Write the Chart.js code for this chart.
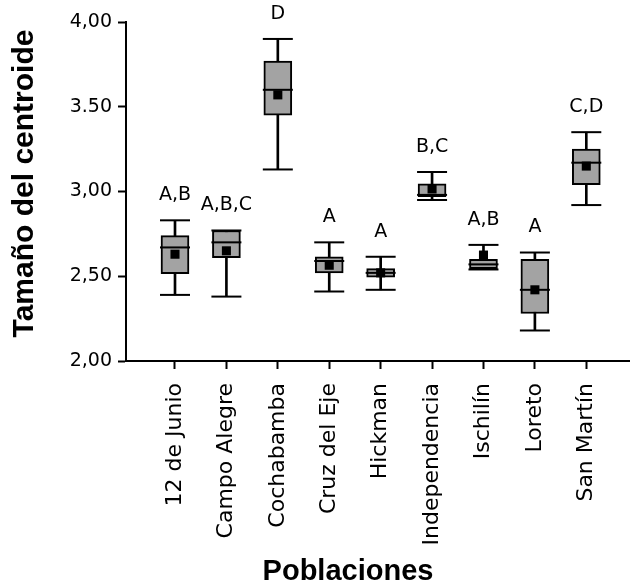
<!DOCTYPE html>
<html>
<head>
<meta charset="utf-8">
<script src="https://cdn.jsdelivr.net/npm/chart.js@4/dist/chart.umd.min.js"></script>
<style>
  html, body { margin: 0; padding: 0; background: #ffffff; }
  #wrap { width: 630px; height: 585px; position: relative; }
</style>
</head>
<body>
<div id="wrap"><canvas id="c" width="630" height="585"></canvas></div>
<script>
// ---- data ----
const categories = ['12 de Junio', 'Campo Alegre', 'Cochabamba', 'Cruz del Eje', 'Hickman',
                    'Independencia', 'Ischilín', 'Loreto', 'San Martín'];
const whiskerLow  = [2.39, 2.38, 3.13, 2.41, 2.42, 2.95, 2.54, 2.18, 2.92];
const q1          = [2.515, 2.61, 3.45, 2.52, 2.495, 2.97, 2.545, 2.28, 3.04];
const medians     = [2.67, 2.70, 3.60, 2.59, 2.52, 2.98, 2.57, 2.42, 3.17];
const q3          = [2.74, 2.77, 3.77, 2.615, 2.545, 3.045, 2.60, 2.60, 3.25];
const whiskerHigh = [2.83, 2.77, 3.90, 2.70, 2.615, 3.115, 2.685, 2.64, 3.35];
const means       = [2.63, 2.65, 3.57, 2.565, 2.52, 3.015, 2.625, 2.42, 3.15];
const letters     = ['A,B', 'A,B,C', 'D', 'A', 'A', 'B,C', 'A,B', 'A', 'C,D'];
const yTickValues = [2.0, 2.5, 3.0, 3.5, 4.0];
const yTickLabels = ['2,00', '2,50', '3,00', '3.50', '4,00'];
const xTitle = 'Poblaciones';
const yTitle = 'Tamaño del centroide';

const pos = categories.map((c, i) => i + 1);

const annotatePlugin = {
  id: 'annotate',
  afterDatasetsDraw(chart) {
    const {ctx, chartArea, scales: {x, y}} = chart;
    ctx.save();
    // significance letters above each upper whisker
    ctx.font = '19px "DejaVu Sans"';
    ctx.fillStyle = '#000000';
    ctx.textAlign = 'center';
    ctx.textBaseline = 'middle';
    letters.forEach((t, i) => {
      ctx.fillText(t, x.getPixelForValue(pos[i]), y.getPixelForValue(whiskerHigh[i]) - 25);
    });
    // axis titles
    ctx.font = 'bold 29px "Liberation Sans"';
    ctx.fillText(xTitle, chartArea.left + 222, chart.height - 13);
    ctx.translate(25, (chartArea.top + chartArea.bottom) / 2 - 8);
    ctx.rotate(-Math.PI / 2);
    ctx.font = 'bold 30px "Liberation Sans"';
    ctx.fillText(yTitle, 0, 0);
    ctx.restore();
  }
};

new Chart(document.getElementById('c'), {
  type: 'bar',
  data: {
    datasets: [
      {
        label: 'whisker',
        data: pos.map((p, i) => ({x: p, y: [whiskerLow[i], whiskerHigh[i]]})),
        backgroundColor: '#000000',
        borderWidth: 0,
        barThickness: 2,
        grouped: false,
        order: 5
      },
      {
        label: 'box',
        data: pos.map((p, i) => ({x: p, y: [q1[i], q3[i]]})),
        backgroundColor: '#a3a3a3',
        borderColor: '#000000',
        borderWidth: 2,
        borderSkipped: false,
        barThickness: 28,
        grouped: false,
        order: 4
      },
      {
        type: 'scatter',
        label: 'caps',
        data: pos.map((p, i) => ({x: p, y: whiskerHigh[i]})).concat(pos.map((p, i) => ({x: p, y: whiskerLow[i]}))),
        pointStyle: 'line',
        radius: 15,
        borderWidth: 2,
        borderColor: '#000000',
        order: 3
      },
      {
        type: 'scatter',
        label: 'median',
        data: pos.map((p, i) => ({x: p, y: medians[i]})),
        pointStyle: 'line',
        radius: 15,
        borderWidth: 2,
        borderColor: '#000000',
        order: 2
      },
      {
        type: 'scatter',
        label: 'mean',
        data: pos.map((p, i) => ({x: p, y: means[i]})),
        pointStyle: 'rect',
        radius: 6.4,
        borderWidth: 0,
        backgroundColor: '#000000',
        order: 1
      }
    ]
  },
  options: {
    responsive: false,
    animation: false,
    events: [],
    layout: { autoPadding: false, padding: { top: 22, left: 0, right: 0, bottom: 0 } },
    plugins: { legend: { display: false }, tooltip: { enabled: false } },
    scales: {
      x: {
        type: 'linear',
        offset: false,
        min: 0.047,
        max: 9.85,
        afterBuildTicks: s => { s.ticks = pos.map(v => ({value: v})); },
        afterFit: s => { s.height = 224; s.paddingLeft = 0; s.paddingRight = 0; },
        grid: { offset: false, drawOnChartArea: false, drawTicks: true, tickLength: 8, tickWidth: 2, color: '#000000' },
        border: { display: true, color: '#000000', width: 2 },
        ticks: {
          autoSkip: false,
          minRotation: 90,
          maxRotation: 90,
          padding: 14,
          color: '#000000',
          font: { family: '"DejaVu Sans"', size: 22 },
          callback: v => categories[v - 1]
        },
        title: { display: false }
      },
      y: {
        min: 2,
        max: 4,
        afterBuildTicks: s => { s.ticks = yTickValues.map(v => ({value: v})); },
        afterFit: s => { s.width = 126; },
        grid: { drawOnChartArea: false, drawTicks: true, tickLength: 8, tickWidth: 2, color: '#000000' },
        border: { display: true, color: '#000000', width: 2 },
        ticks: {
          padding: 6,
          color: '#000000',
          font: { family: '"DejaVu Sans"', size: 19 },
          callback: v => yTickLabels[yTickValues.indexOf(v)]
        },
        title: { display: false }
      }
    }
  },
  plugins: [annotatePlugin]
});
</script>
</body>
</html>
